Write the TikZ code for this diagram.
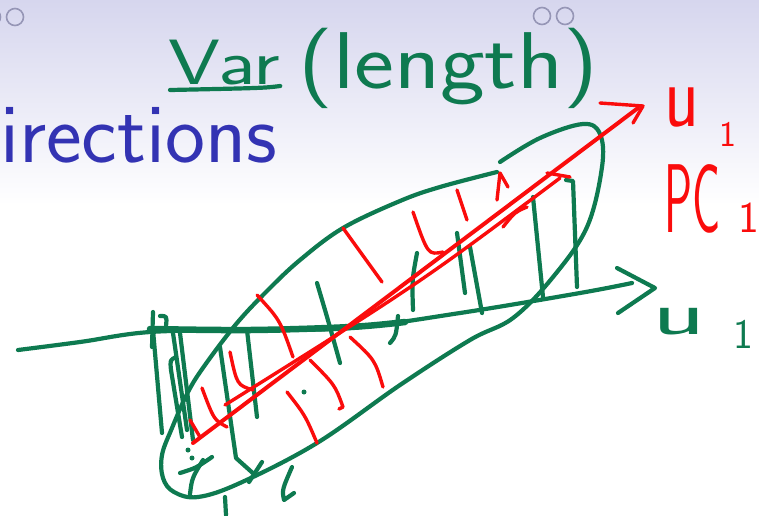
\documentclass[tikz,border=0pt]{standalone}
\usepackage{fontspec}
\usepackage{graphicx}
\definecolor{pen}{RGB}{14,122,80}
\definecolor{ink}{RGB}{250,12,12}
\definecolor{titleblue}{RGB}{51,51,179}
\definecolor{navgray}{RGB}{150,150,182}
\definecolor{headtop}{RGB}{214,214,238}
\tikzset{
  gstroke/.style={draw=pen,line width=4.2pt,line cap=round,line join=round},
  gthick/.style={gstroke,line width=6.5pt},
  rstroke/.style={draw=ink,line width=3.4pt,line cap=round,line join=round},
  navdot/.style={draw=navgray,line width=1.6pt},
  glabel/.style={text=pen,inner sep=0pt,font=\sffamily},
  rlabel/.style={text=ink,inner sep=0pt,font=\sffamily},
}
\begin{document}
\begin{tikzpicture}[x=1pt,y=-1pt]
\useasboundingbox (0,0) rectangle (759,515);
\clip (0,0) rectangle (759,515);
\fill[white] (0,0) rectangle (759,515);
\shade[top color=headtop,bottom color=white] (0,0) rectangle (759,205);
% navigation dots
\draw[navdot] (-8,17) circle[radius=8.5pt];
\draw[navdot] (15,17) circle[radius=8.5pt];
\draw[navdot] (542,16) circle[radius=8.5pt];
\draw[navdot] (565,16) circle[radius=8.5pt];
% title
\node[anchor=base west,text=titleblue,inner sep=0pt,font=\sffamily\fontsize{85}{90}\selectfont] (title) at (0,162) {irections};

% handwritten labels
\node[glabel,anchor=base west,font=\sffamily\fontsize{64}{70}\selectfont] (var) at (168,84) {\scalebox{1.3}[1]{Var}};
\node[glabel,anchor=base west,font=\sffamily\fontsize{70}{76}\selectfont] (len) at (298,88) {\scalebox{1.36}[1.15]{(length)}};
\draw[gstroke] ([xshift=2pt,yshift=-6pt]var.base west) .. controls ([xshift=40pt,yshift=-4pt]var.base) .. ([xshift=0pt,yshift=-2pt]var.base east);

\node[rlabel,anchor=base west,font=\sffamily\fontsize{90}{90}\selectfont] (ured) at (664,126) {\scalebox{0.8}[1]{u}\hspace{20pt}\raisebox{-20pt}{\fontsize{36}{36}\selectfont 1}};
\node[rlabel,anchor=base west,font=\sffamily\fontsize{85}{85}\selectfont] (pc) at (664,232) {\scalebox{0.55}[1.15]{PC}\hspace{18pt}{\fontsize{44}{44}\selectfont 1}};
\node[glabel,anchor=base west,font=\sffamily\fontsize{58}{58}\selectfont] (ugreen) at (652,334) {\scalebox{1.9}[1.05]{u}\hspace{28pt}\raisebox{-14pt}{\fontsize{42}{42}\selectfont 1}};

% green horizontal axis u
\coordinate (axL) at (18,350);
\coordinate (axR) at (632,283);
\coordinate (axTip) at (655,288);
\draw[gstroke] plot[smooth,tension=0.6] coordinates {(axL) (80,342) (150,332) (250,330) (350,328) (460,313) (580,293) (axR)};
\draw[gthick] plot[smooth,tension=0.6] coordinates {(150,329) (250,330) (350,327) (405,322)};
\draw[gstroke] (617,268) -- (axTip) -- (618,313);

% ellipse of the data cloud
\draw[gstroke] plot[smooth,tension=0.6] coordinates {(497,172) (440,187) (400,201) (343,228) (300,260) (268,290) (237,323) (205,365) (188,392) (172,428) (162,455) (163,478) (174,492) (198,497) (240,483) (317,443) (400,385) (470,340) (513,318) (553,277) (587,227) (602,167) (600,134) (583,124) (540,138) (500,162)};

% green projection lines
\draw[gstroke] (153,312) -- (152,347);
\draw[gstroke] (160,316) .. controls (167,316) .. (166,326);
\draw[gstroke] (153,330) -- (162,433);
\draw[gstroke] (176,357) .. controls (170,360) .. (171,370) -- (182,437);
\draw[gstroke] (173,333) -- (187,430);
\draw[gstroke] (180,333) -- (193,440);
\draw[gstroke] (220,347) -- (236,458) -- (255,475);
\draw[gstroke] (262,462) -- (249,482);
\draw[gstroke] (247,330) -- (257,417);
\draw[gstroke] (317,283) .. controls (328,320) .. (340,363);
\draw[gstroke] (398,316) .. controls (396,336) .. (390,343);
\draw[gstroke] (417,253) .. controls (412,280) .. (413,310);
\draw[gstroke] (457,233) -- (465,293);
\draw[gstroke] (470,247) -- (482,313);
\draw[gstroke] (533,197) -- (543,297);
\draw[gstroke] (566,180) -- (573,181) -- (577,287);
\fill[pen] (304,392) circle[radius=2.5pt];
% bottom-left marks
\fill[pen] (188,450) circle[radius=2.5pt];
\fill[pen] (192,458) circle[radius=2.5pt];
\draw[gstroke] (180,473) .. controls (196,468) .. (212,457);
\draw[gstroke] (203,460) .. controls (192,478) .. (190,494);
\draw[gstroke] (225,497) -- (226,515);
\draw[gstroke] (292,467) .. controls (282,490) .. (284,500) -- (294,493);

% red PC1 direction
\coordinate (pcL) at (193,443);
\coordinate (pcR) at (638,108);
\coordinate (pcTip) at (643,106);
\draw[rstroke,line width=4pt] (pcL) -- (pcR);
\draw[rstroke] (225,405) .. controls (420,283) .. (560,178);
\draw[rstroke] (600,103) -- (pcTip) -- (633,123);
\draw[rstroke] (497,200) -- (500,173) -- (508,187);
\draw[rstroke] (503,227) .. controls (515,212) .. (527,207);
\draw[rstroke] (547,173) -- (570,177);

% red projection ticks
\draw[rstroke] (343,228) -- (382,282);
\draw[rstroke] (413,212) .. controls (428,255) .. (443,252);
\draw[rstroke] (457,190) -- (467,220);
\draw[rstroke] (257,295) .. controls (280,320) .. (293,357);
\draw[rstroke] (230,352) .. controls (237,385) .. (253,390);
\draw[rstroke] (202,388) .. controls (214,420) .. (227,427);
\draw[rstroke] (287,392) .. controls (305,415) .. (317,443);
\draw[rstroke] (310,360) .. controls (335,385) .. (343,407) -- (339,409);
\draw[rstroke] (350,337) .. controls (375,360) .. (383,387);
\draw[rstroke] (190,420) -- (200,437);
\end{tikzpicture}
\end{document}
